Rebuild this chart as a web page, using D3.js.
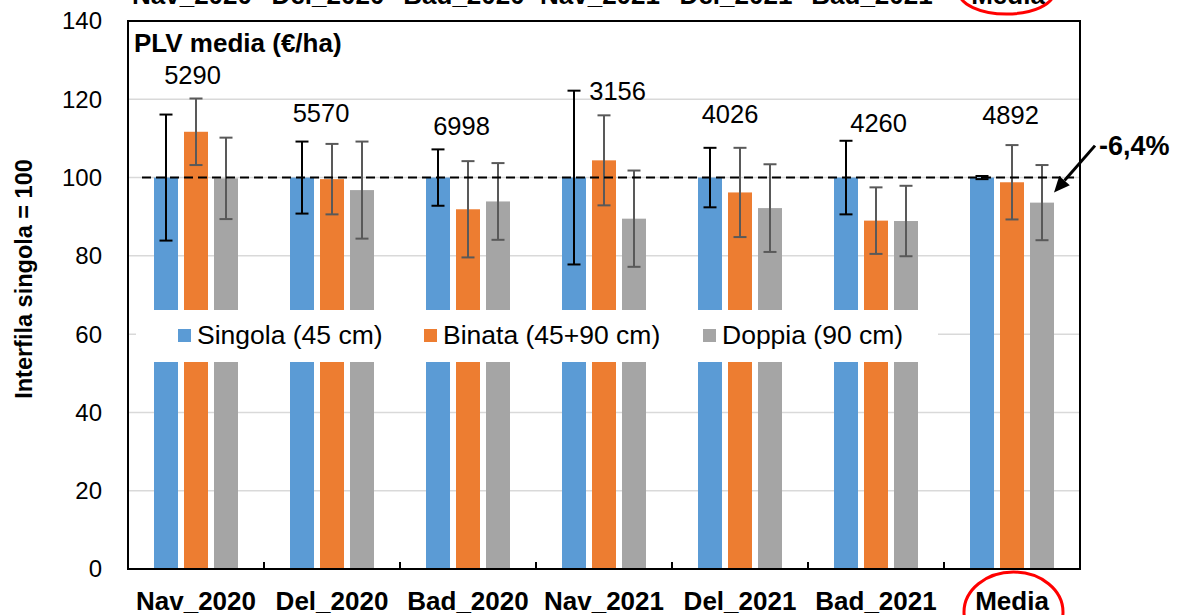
<!DOCTYPE html>
<html>
<head>
<meta charset="utf-8">
<script src="https://cdn.jsdelivr.net/npm/d3@7"></script>
<style>
  body { margin: 0; background: #fff; }
  svg { display: block; font-family: "Liberation Sans", Arial, sans-serif; }
</style>
</head>
<body>
<div id="chart"></div>
<script>
const categories = ["Nav_2020", "Del_2020", "Bad_2020", "Nav_2021", "Del_2021", "Bad_2021", "Media"];
const seriesNames = ["Singola (45 cm)", "Binata (45+90 cm)", "Doppia (90 cm)"];
const seriesColors = ["#5B9BD5", "#ED7D31", "#A5A5A5"];
const errColors = ["#000000", "#595959", "#595959"];

const singola = [100, 100, 100, 100, 100, 100, 100];
const singolaErr = [16.1, 9.2, 7.2, 22.2, 7.6, 9.4, 0.4];
const binata = [111.7, 99.6, 91.9, 104.4, 96.2, 89.0, 98.8];
const binataErr = [8.5, 9.0, 12.3, 11.5, 11.4, 8.5, 9.5];
const doppia = [99.8, 96.8, 93.9, 89.5, 92.2, 88.9, 93.6];
const doppiaErr = [10.4, 12.4, 9.8, 12.3, 11.2, 9.0, 9.6];

// PLV media (€/ha) labels and the level (in y units) where they sit
const plv = [5290, 5570, 6998, 3156, 4026, 4260, 4892];
const plvLevel = [123.9, 114.2, 110.9, 119.8, 113.9, 111.7, 113.6];
const plvShift = [-3.5, -11, -6.5, 13.6, -10, 2.6, -1.5];

const yTicks = [0, 20, 40, 60, 80, 100, 120, 140];

const W = 1178, H = 615;
const margin = {left: 128, right: 98, top: 21, bottom: 46};
const plotW = W - margin.left - margin.right;
const plotH = H - margin.top - margin.bottom;

const svg = d3.select("#chart").append("svg")
    .attr("width", W)
    .attr("height", H);

const g = svg.append("g")
    .attr("transform", `translate(${margin.left},${margin.top})`);

const x = d3.scaleBand().domain(categories).range([0, plotW]);
const x1 = d3.scaleBand().domain(seriesNames).range([26, 110]).paddingInner(0.2);
const y = d3.scaleLinear().domain([0, 140]).range([plotH, 0]);

const values = [singola, binata, doppia];
const errs = [singolaErr, binataErr, doppiaErr];
const bars = [];
categories.forEach((c, i) => {
    seriesNames.forEach((s, k) => {
        bars.push({cat: c, s: s, k: k, v: values[k][i], e: errs[k][i]});
    });
});

// gridlines
g.selectAll(".grid")
    .data(yTicks.filter(d => d > 0 && d < 140))
    .enter().append("line")
    .attr("class", "grid")
    .attr("x1", 0)
    .attr("x2", plotW)
    .attr("y1", d => y(d))
    .attr("y2", d => y(d))
    .attr("stroke", "#d9d9d9")
    .attr("stroke-width", 1.5);

// bars
g.selectAll(".bar")
    .data(bars)
    .enter().append("rect")
    .attr("class", "bar")
    .attr("x", d => x(d.cat) + x1(d.s))
    .attr("y", d => y(d.v))
    .attr("width", x1.bandwidth())
    .attr("height", d => plotH - y(d.v))
    .attr("fill", d => seriesColors[d.k]);

// legend box (white, covers the bars behind it)
const legend = g.append("g").attr("class", "legend");
legend.append("rect")
    .attr("x", 8)
    .attr("y", 289)
    .attr("width", 802)
    .attr("height", 52)
    .attr("fill", "#fff");
const legendX = [50, 296, 575];
seriesNames.forEach((s, k) => {
    legend.append("rect")
        .attr("x", legendX[k])
        .attr("y", 308)
        .attr("width", 13)
        .attr("height", 13)
        .attr("fill", seriesColors[k]);
    legend.append("text")
        .attr("x", legendX[k] + 19)
        .attr("y", 323)
        .attr("font-size", "26.5px")
        .attr("fill", "#000")
        .text(s);
});

// error bars
const eb = g.selectAll(".err")
    .data(bars)
    .enter().append("g")
    .attr("class", "err")
    .attr("stroke", d => errColors[d.k])
    .attr("stroke-width", 2);
eb.append("line")
    .attr("x1", d => x(d.cat) + x1(d.s) + x1.bandwidth() / 2)
    .attr("x2", d => x(d.cat) + x1(d.s) + x1.bandwidth() / 2)
    .attr("y1", d => y(d.v + d.e))
    .attr("y2", d => y(d.v - d.e));
[1, -1].forEach(sign => {
    eb.append("line")
        .attr("x1", d => x(d.cat) + x1(d.s) + x1.bandwidth() / 2 - 6.5)
        .attr("x2", d => x(d.cat) + x1(d.s) + x1.bandwidth() / 2 + 6.5)
        .attr("y1", d => y(d.v + sign * d.e))
        .attr("y2", d => y(d.v + sign * d.e));
});

// reference line at 100
g.append("line")
    .attr("x1", 14)
    .attr("x2", plotW - 6)
    .attr("y1", y(100))
    .attr("y2", y(100))
    .attr("stroke", "#000")
    .attr("stroke-width", 2)
    .attr("stroke-dasharray", "9,5");

// plot frame
g.append("rect")
    .attr("x", 0)
    .attr("y", 0)
    .attr("width", plotW)
    .attr("height", plotH)
    .attr("fill", "none")
    .attr("stroke", "#000")
    .attr("stroke-width", 2);

// category ticks (inward)
g.selectAll(".xtick")
    .data(categories.slice(1))
    .enter().append("line")
    .attr("class", "xtick")
    .attr("x1", d => x(d))
    .attr("x2", d => x(d))
    .attr("y1", plotH)
    .attr("y2", plotH - 7)
    .attr("stroke", "#000")
    .attr("stroke-width", 2);

// y tick labels
g.selectAll(".ylabel")
    .data(yTicks)
    .enter().append("text")
    .attr("class", "ylabel")
    .attr("x", -26)
    .attr("y", d => y(d))
    .attr("dy", "0.35em")
    .attr("text-anchor", "end")
    .attr("font-size", "24px")
    .text(d => d);

// x labels
g.selectAll(".xlabel")
    .data(categories)
    .enter().append("text")
    .attr("class", "xlabel")
    .attr("x", d => x(d) + x.bandwidth() / 2)
    .attr("y", plotH + 41)
    .attr("text-anchor", "middle")
    .attr("font-size", "26px")
    .attr("font-weight", "bold")
    .text(d => d);

// labels of the chart above, cut off at the top edge
g.selectAll(".toplabel")
    .data(categories)
    .enter().append("text")
    .attr("class", "toplabel")
    .attr("x", d => x(d) + x.bandwidth() / 2 - 4)
    .attr("y", -17)
    .attr("text-anchor", "middle")
    .attr("font-size", "26px")
    .attr("font-weight", "bold")
    .text(d => d);

// red circles around "Media"
const mx = x("Media") + x.bandwidth() / 2;
g.append("ellipse")
    .attr("cx", mx + 1.5)
    .attr("cy", plotH + 43)
    .attr("rx", 49.5)
    .attr("ry", 40)
    .attr("fill", "none")
    .attr("stroke", "#FF0000")
    .attr("stroke-width", 3);
g.append("ellipse")
    .attr("cx", mx - 5.5)
    .attr("cy", -29)
    .attr("rx", 47.5)
    .attr("ry", 22)
    .attr("fill", "none")
    .attr("stroke", "#FF0000")
    .attr("stroke-width", 3);

// y title
svg.append("text")
    .attr("transform", `translate(32,279) rotate(-90)`)
    .attr("text-anchor", "middle")
    .attr("font-size", "23.5px")
    .attr("font-weight", "bold")
    .text("Interfila singola = 100");

// PLV title and values
g.append("text")
    .attr("x", 6)
    .attr("y", 31)
    .attr("font-size", "26px")
    .attr("font-weight", "bold")
    .text("PLV media (€/ha)");

g.selectAll(".plv")
    .data(plv)
    .enter().append("text")
    .attr("class", "plv")
    .attr("x", (d, i) => x(categories[i]) + x.bandwidth() / 2 + plvShift[i])
    .attr("y", (d, i) => y(plvLevel[i]))
    .attr("text-anchor", "middle")
    .attr("font-size", "25.5px")
    .text(d => d);

// -6,4% arrow on Media / Doppia
const tipX = x("Media") + x1("Doppia (90 cm)") + x1.bandwidth();
const tipY = y(doppia[6]) - 10;
const sx = tipX + 41, sy = tipY - 47;
const ang = Math.atan2(tipY - sy, tipX - sx);
const hl = 16, hw = 7;
const bx = tipX - hl * Math.cos(ang), by = tipY - hl * Math.sin(ang);
g.append("line")
    .attr("x1", sx).attr("y1", sy)
    .attr("x2", bx).attr("y2", by)
    .attr("stroke", "#000")
    .attr("stroke-width", 3);
g.append("path")
    .attr("d", `M${tipX},${tipY}L${bx + hw * Math.sin(ang)},${by - hw * Math.cos(ang)}L${bx - hw * Math.sin(ang)},${by + hw * Math.cos(ang)}Z`)
    .attr("fill", "#000");
g.append("text")
    .attr("x", sx + 4)
    .attr("y", sy + 9)
    .attr("font-size", "27px")
    .attr("font-weight", "bold")
    .text("-6,4%");
</script>
</body>
</html>
